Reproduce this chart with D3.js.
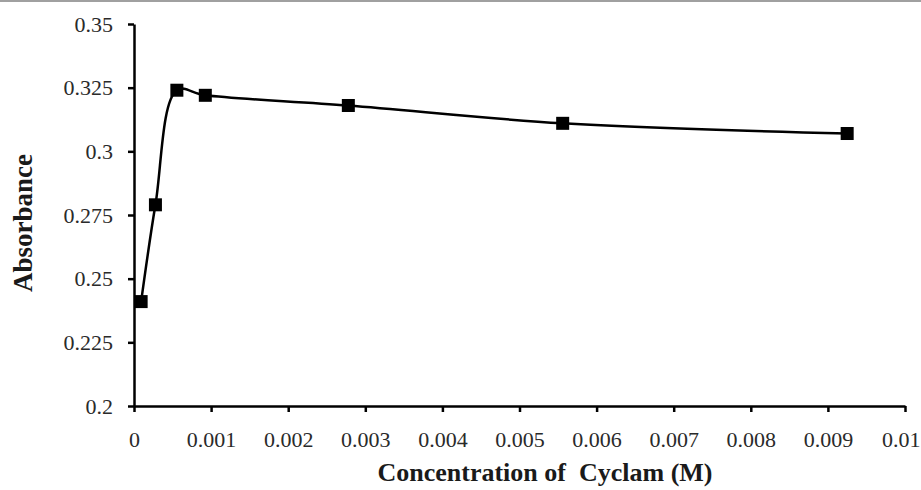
<!DOCTYPE html>
<html><head><meta charset="utf-8">
<script src="https://cdn.jsdelivr.net/npm/d3@7"></script>
<style>body{margin:0;background:#fff}svg{display:block}</style>
</head><body>
<script>
const concentrations = [0.0000925, 0.000278, 0.000556, 0.000925, 0.00278, 0.00556, 0.00925];
const absorbance = [0.241, 0.279, 0.324, 0.322, 0.318, 0.311, 0.307];
const xTicks = [0, 0.001, 0.002, 0.003, 0.004, 0.005, 0.006, 0.007, 0.008, 0.009, 0.01];
const yTicks = [0.2, 0.225, 0.25, 0.275, 0.3, 0.325, 0.35];
const xTitle = "Concentration of\u00a0 Cyclam (M)";
const yTitle = "Absorbance";

const W = 921, H = 490;
const svg = d3.select("body").append("svg").attr("width", W).attr("height", H);
svg.append("rect").attr("x",0).attr("y",0).attr("width",W).attr("height",2).attr("fill","#a0a0a0");

const x = d3.scaleLinear().domain([0, 0.01]).range([134, 905]);
const y = d3.scaleLinear().domain([0.2, 0.35]).range([406, 24]);
const font = "'Liberation Serif', 'Times New Roman', serif";

const xAxis = svg.append("g").attr("transform", "translate(0,406)")
  .call(d3.axisBottom(x).tickValues(xTicks).tickSize(6).tickSizeOuter(0).tickFormat(d => d === 0 ? "0" : String(+d.toFixed(3))));
const yAxis = svg.append("g").attr("transform", "translate(134,0)")
  .call(d3.axisLeft(y).tickValues(yTicks).tickSize(6).tickSizeOuter(0).tickFormat(d => String(+d.toFixed(3))));
[xAxis, yAxis].forEach(g => {
  g.select(".domain").attr("stroke", "#000").attr("stroke-width", 2.5);
  g.selectAll(".tick line").attr("stroke", "#000").attr("stroke-width", 2.5);
  g.selectAll(".tick text").attr("fill", "#2a2a2a").style("font-family", font).style("font-size", "22px");
});
xAxis.selectAll(".tick text").attr("dy", 0).attr("y", 41);
xAxis.selectAll(".tick text").filter(d => d === 0.01).attr("text-anchor", "end").attr("x", 15);
yAxis.selectAll(".tick text").attr("x", -21);

const pts = concentrations.map((c, i) => [x(c), y(absorbance[i])]);
svg.append("path").attr("d", d3.line().curve(d3.curveCatmullRom.alpha(0.5))(pts))
  .attr("fill", "none").attr("stroke", "#000").attr("stroke-width", 2.5);
const s = 13;
svg.selectAll("rect.m").data(pts).enter().append("rect").attr("class","m")
  .attr("x", d => d[0] - s/2).attr("y", d => d[1] - s/2).attr("width", s).attr("height", s).attr("fill", "#000");

svg.append("text").attr("x", 545).attr("y", 481).attr("text-anchor", "middle")
  .style("font-family", font).style("font-size", "26px").style("font-weight", "bold").attr("fill","#1a1a1a").text(xTitle);
svg.append("text").attr("transform", "translate(32,223) rotate(-90)").attr("text-anchor", "middle")
  .style("font-family", font).style("font-size", "27px").style("font-weight", "bold").attr("fill","#1a1a1a").text(yTitle);
</script>
</body></html>
